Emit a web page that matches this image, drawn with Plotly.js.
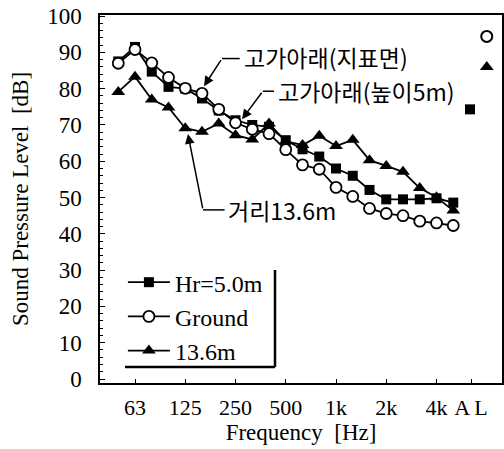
<!DOCTYPE html>
<html><head><meta charset="utf-8">
<script src="https://cdn.plot.ly/plotly-3.0.1.min.js"></script>
<style>html,body{margin:0;padding:0;background:#fff}#chart{width:504px;height:449px}</style>
</head><body><div id="chart"></div>
<script>
// 1/3-octave bands (Hz)
const bands = ['50','63','80','100','125','160','200','250','315','400','500','630','800','1k','1.25k','1.6k','2k','2.5k','3.15k','4k','5k'];
const hr5 = [87.5,91.5,84.7,80.5,80.0,77.3,74.0,71.3,70.0,69.5,65.8,63.3,61.3,58.0,56.0,52.1,49.5,49.5,49.5,49.8,48.6];
const ground = [87.0,90.8,87.1,83.1,80.1,78.7,74.3,70.6,68.8,67.6,63.2,59.0,57.8,52.8,50.3,47.0,45.6,45.0,43.5,43.0,42.3];
const d136 = [79.1,83.3,77.0,74.8,69.1,68.1,70.4,67.2,66.0,70.4,65.5,64.5,67.0,64.2,65.9,60.3,58.7,57.1,52.6,50.1,46.4];
// overall (AL) values
const alHr5 = 74.3, alGround = 94.4, al136 = 86.0;
const tickLabels = ['63','125','250','500','1k','2k','4k','A L'];
const tickBands = ['63','125','250','500','1k','2k','4k'];
const legendNames = ['Hr=5.0m','Ground','13.6m'];

const idx = bands.map((b,i)=>i);
const tickvals = tickBands.map(b=>bands.indexOf(b)).concat([21.06]);
const alXsq = 21.0, alXo = 22.0;

const line = {color:'#000', width:1.8};
const traces = [
  {x:idx, y:hr5, name:legendNames[0], mode:'lines+markers', line:line,
   marker:{symbol:'square', size:10, color:'#000'}},
  {x:idx, y:ground, name:legendNames[1], mode:'lines+markers', line:line,
   marker:{symbol:'circle', size:11, color:'#fff', line:{color:'#000', width:1.8}}},
  {x:idx, y:d136, name:legendNames[2], mode:'lines+markers', line:line,
   marker:{symbol:'triangle-up', size:12, color:'#000'}},
  {x:[alXsq], y:[alHr5], mode:'markers', showlegend:false, marker:{symbol:'square', size:10, color:'#000'}},
  {x:[alXo], y:[alGround], mode:'markers', showlegend:false, marker:{symbol:'circle', size:11, color:'#fff', line:{color:'#000', width:2}}},
  {x:[alXo], y:[al136], mode:'markers', showlegend:false, marker:{symbol:'triangle-up', size:12, color:'#000'}}
];

const kfont = {family:'Noto Sans CJK KR', size:23, color:'#000'};
const annotations = [
  {xref:'x', yref:'y', x:7.38, y:88.8, text:'고가아래(지표면)', showarrow:false, xanchor:'left', yanchor:'middle', font:kfont},
  {xref:'x', yref:'y', x:9.41, y:79.3, text:'고가아래(높이5m)', showarrow:false, xanchor:'left', yanchor:'middle', font:kfont},
  {xref:'x', yref:'y', x:6.43, y:46.6, text:'거리13.6m', showarrow:false, xanchor:'left', yanchor:'middle', font:kfont},
  {xref:'x', yref:'y', axref:'x', ayref:'y', x:5.12, y:80.7, ax:6.19, ay:88.3, text:'', showarrow:true, arrowhead:2, arrowsize:1.3, arrowwidth:1.5, arrowcolor:'#000'},
  {xref:'x', yref:'y', axref:'x', ayref:'y', x:7.39, y:71.6, ax:8.63, ay:79.3, text:'', showarrow:true, arrowhead:2, arrowsize:1.3, arrowwidth:1.5, arrowcolor:'#000'},
  {xref:'x', yref:'y', axref:'x', ayref:'y', x:4.16, y:67.5, ax:5.06, ay:46.6, text:'', showarrow:true, arrowhead:2, arrowsize:1.3, arrowwidth:1.5, arrowcolor:'#000'}
];
const shapes = [
  {type:'line', xref:'x', yref:'y', x0:6.19, y0:88.3, x1:7.25, y1:88.3, line:{color:'#000', width:1.5}},
  {type:'line', xref:'x', yref:'y', x0:8.63, y0:79.3, x1:9.3, y1:79.3, line:{color:'#000', width:1.5}},
  {type:'line', xref:'x', yref:'y', x0:5.06, y0:46.6, x1:6.35, y1:46.6, line:{color:'#000', width:1.5}},
  // legend box shadow edges
  {type:'line', xref:'paper', yref:'paper', x0:0.0622, y0:0.0435, x1:0.4353, y1:0.0435, line:{color:'#000', width:2.5}},
  {type:'line', xref:'paper', yref:'paper', x0:0.4353, y0:0.0435, x1:0.4353, y1:0.3071, line:{color:'#000', width:2.5}}
];

const tfont = {family:'Liberation Serif', size:22, color:'#000'};
const layout = {
  width:504, height:449,
  margin:{l:100, r:2, t:15, b:66},
  paper_bgcolor:'#fff', plot_bgcolor:'#fff',
  showlegend:true,
  legend:{x:0.057, y:0.334, xanchor:'left', yanchor:'top', font:{family:'Liberation Serif', size:24, color:'#000'}, bgcolor:'rgba(0,0,0,0)', itemwidth:42, tracegroupgap:0},
  font:tfont,
  xaxis:{range:[-1.09,22.91], tickmode:'array', tickvals:tickvals, ticktext:tickLabels,
    showgrid:false, zeroline:false, showline:true, linecolor:'#000', linewidth:1.6, mirror:true,
    ticks:'inside', ticklen:4, tickcolor:'#000', tickfont:tfont, ticklabelstandoff:4,
    title:{text:'Frequency  [Hz]', font:{family:'Liberation Serif', size:23, color:'#000'}, standoff:5}},
  yaxis:{range:[-1.1,100.3], tickmode:'linear', tick0:0, dtick:10,
    showgrid:false, zeroline:false, showline:true, linecolor:'#000', linewidth:1.6, mirror:true,
    ticks:'inside', ticklen:5, tickcolor:'#000', tickfont:{family:'Liberation Serif', size:23, color:'#000'}, ticklabelstandoff:12,
    minor:{dtick:2, ticks:'inside', ticklen:3, tickcolor:'#000'},
    title:{text:'Sound Pressure Level  [dB]', font:{family:'Liberation Serif', size:23, color:'#000'}, standoff:12}},
  annotations:annotations, shapes:shapes
};
Plotly.newPlot('chart', traces, layout, {displayModeBar:false, staticPlot:true});
</script></body></html>
